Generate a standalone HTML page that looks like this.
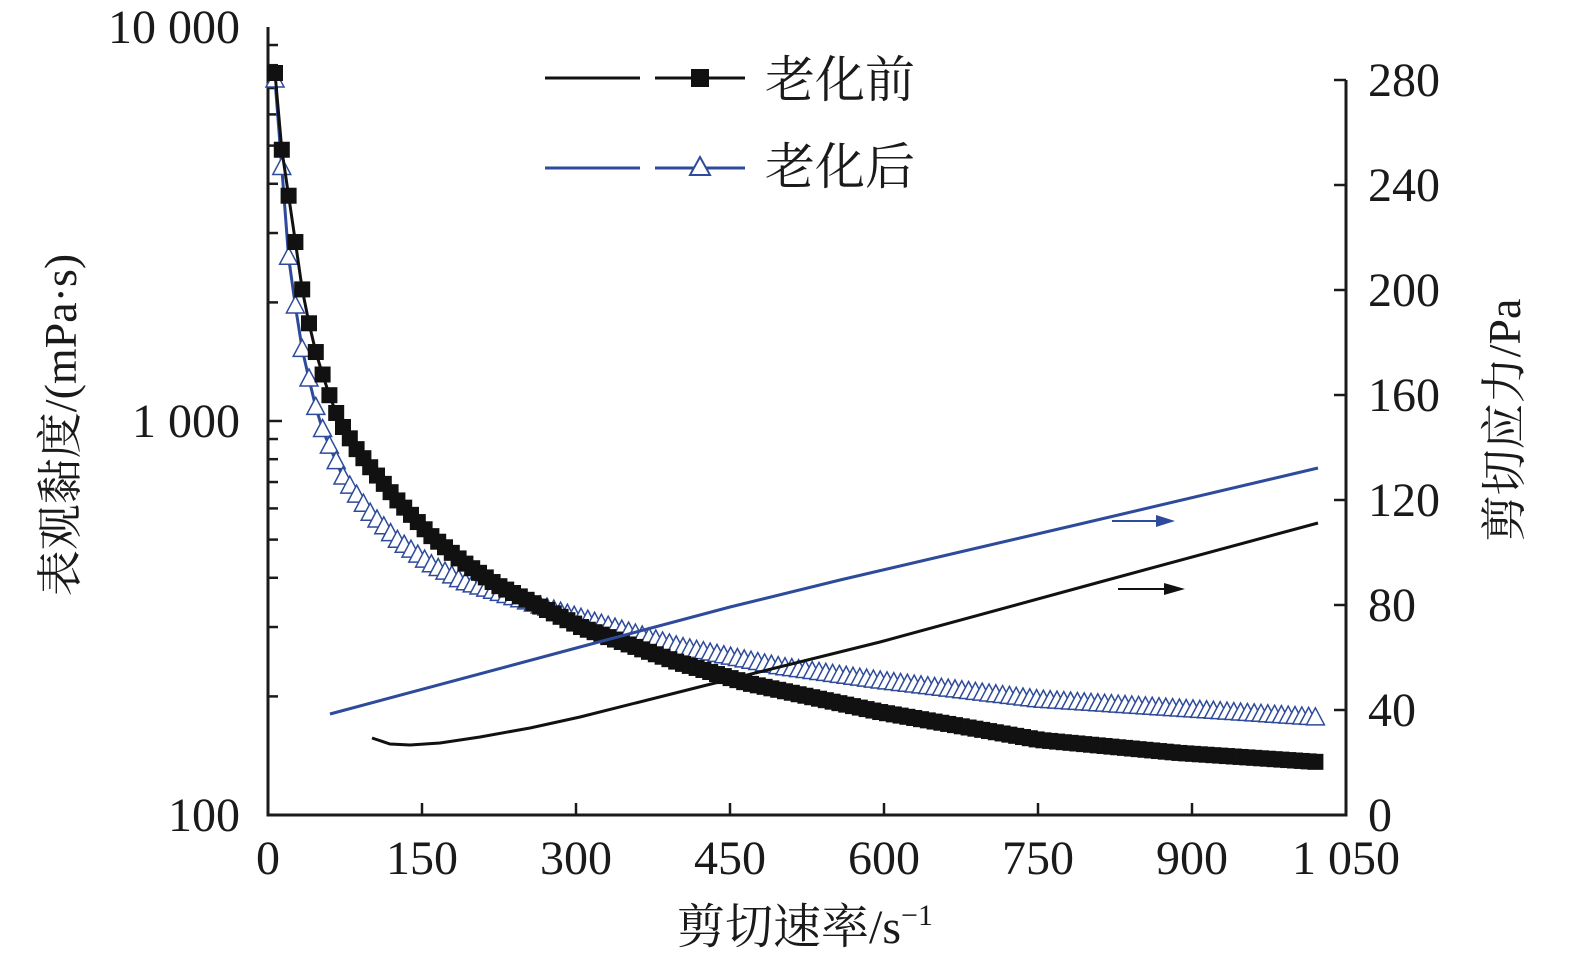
<!DOCTYPE html>
<html><head><meta charset="utf-8"><style>
body{margin:0;background:#fff}
svg{display:block}
text{font-family:"Liberation Serif","Noto Serif CJK SC",serif;fill:#1a1a1a}
</style></head><body>
<svg id="s" width="1575" height="964" xmlns="http://www.w3.org/2000/svg"></svg>
<script>
const s=document.getElementById('s');let h='';
const X=v=>268+v*1078/1050;
const YL=v=>815-394*Math.log10(v/100);
const YR=v=>815-v*2.625;
h+='<path d="M268,27V815H1346V80" fill="none" stroke="#1a1a1a" stroke-width="3"/>';
for(let d=0;d<2;d++)for(let k=2;k<10;k++){const y=YL(100*Math.pow(10,d)*k);h+=`<line x1="268" x2="278" y1="${y}" y2="${y}" stroke="#1a1a1a" stroke-width="2.5"/>`;}
h+=`<line x1="268" x2="282" y1="421" y2="421" stroke="#1a1a1a" stroke-width="2.5"/>`;
const yl=[[100,'100'],[1000,'1 000'],[10000,'10 000']];
yl.forEach(([v,t])=>h+=`<text x="240" y="${YL(v)+16}" font-size="48" text-anchor="end">${t}</text>`);
for(let v=0;v<=1050;v+=150){const x=X(v);h+=`<line x1="${x}" x2="${x}" y1="815" y2="803" stroke="#1a1a1a" stroke-width="2.5"/>`;h+=`<text x="${x}" y="874" font-size="48" text-anchor="middle">${v==1050?'1 050':v}</text>`;}
for(let v=0;v<=280;v+=40){const y=YR(v);h+=`<line x1="1334" x2="1346" y1="${y}" y2="${y}" stroke="#1a1a1a" stroke-width="2.5"/>`;h+=`<text x="1368" y="${y+16}" font-size="48">${v}</text>`;}
h+=`<text x="805" y="943" font-size="48" text-anchor="middle">剪切速率/s<tspan font-size="30" dy="-18">−1</tspan></text>`;
h+=`<text transform="translate(76,425) rotate(-90)" font-size="46" text-anchor="middle">表观黏度/(mPa·s)</text>`;
h+=`<text transform="translate(1520,420) rotate(-90)" font-size="46" text-anchor="middle">剪切应力/Pa</text>`;
function interp(P,x){if(x<=P[0][0])return P[0][1];for(let i=1;i<P.length;i++)if(x<=P[i][0]){const a=P[i-1],b=P[i];return a[1]+(b[1]-a[1])*(x-a[0])/(b[0]-a[0]);}return P[P.length-1][1];}
const BK=[[275,73],[282,152],[290,205],[297,253],[303,295],[310,328],[317,357],[325,382],[332,403],[340,422],[355,447],[370,467],[397,500],[430,535],[463,562],[497,585],[547,610],[583,628],[680,663],[747,683],[880,712],[1040,740],[1180,753],[1318,762]];
const BL=[[275,80],[283,183],[288,253],[295,303],[300,340],[307,370],[313,397],[320,423],[328,443],[343,477],[370,513],[397,540],[430,564],[463,582],[530,603],[580,618],[680,647],[780,667],[880,681],[1040,700],[1318,718]];
let pb='',pl='',mb='',ml='';
for(let i=0;;i++){const x=275+i*6.8;if(x>1320)break;
 const yb=interp(BK,x),yb2=interp(BL,x);pb+=(i?'L':'M')+x.toFixed(1)+','+yb.toFixed(1);pl+=(i?'L':'M')+x.toFixed(1)+','+yb2.toFixed(1);
 ml+=`<path d="M${x},${yb2-10}L${x+9},${yb2+7}H${x-9}Z" fill="#fff" stroke="#2e4a9a" stroke-width="1.5"/>`;
 mb+=`<rect x="${x-8}" y="${yb-8}" width="16" height="16" fill="#111"/>`;}
h+=`<path d="${pl}" fill="none" stroke="#2e4a9a" stroke-width="3"/>`+ml;
h+=`<path d="${pb}" fill="none" stroke="#111" stroke-width="3"/>`+mb;
h+='<path d="M330,714L580,647L730,607L840,580L1080,524L1318,468" fill="none" stroke="#2e4a9a" stroke-width="3"/>';
h+='<path d="M372,738L390,744L410,745L440,743L480,737L530,728L580,717L707,685L880,642L1100,582L1318,523" fill="none" stroke="#111" stroke-width="3"/>';
h+='<line x1="1112" y1="521" x2="1160" y2="521" stroke="#2e4a9a" stroke-width="2"/><path d="M1156,515L1175,521L1156,527Z" fill="#2e4a9a"/>';
h+='<line x1="1118" y1="589" x2="1168" y2="589" stroke="#111" stroke-width="2"/><path d="M1164,583L1185,589L1164,595Z" fill="#111"/>';
h+='<line x1="545" x2="640" y1="78" y2="78" stroke="#111" stroke-width="3"/><line x1="655" x2="745" y1="78" y2="78" stroke="#111" stroke-width="3"/><rect x="691" y="69" width="18" height="18" fill="#111"/>';
h+='<text x="765" y="97" font-size="50">老化前</text>';
h+='<line x1="545" x2="640" y1="168" y2="168" stroke="#2e4a9a" stroke-width="3"/><line x1="655" x2="745" y1="168" y2="168" stroke="#2e4a9a" stroke-width="3"/><path d="M700,157L710,175H690Z" fill="#fff" stroke="#2e4a9a" stroke-width="2"/>';
h+='<text x="765" y="184" font-size="50">老化后</text>';
s.innerHTML=h;
</script>
</body></html>
